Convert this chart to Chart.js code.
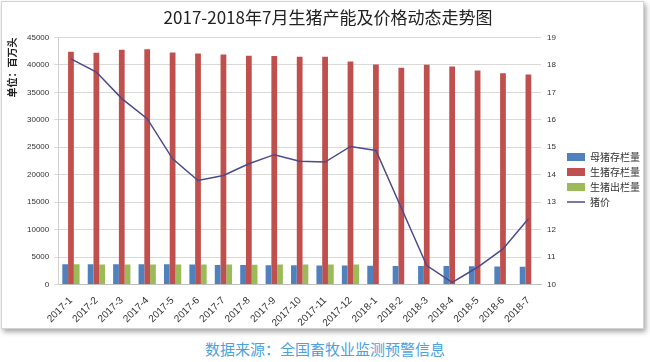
<!DOCTYPE html>
<html><head><meta charset="utf-8">
<script src="https://cdn.jsdelivr.net/npm/chart.js@4.4.0/dist/chart.umd.min.js"></script>
<style>
html,body{margin:0;padding:0;background:#fff;width:650px;height:362px;overflow:hidden;}
#panel{position:absolute;left:1px;top:1px;width:641px;height:326px;border:1px solid #d4d4d4;box-shadow:2px 3px 5px rgba(0,0,0,0.35);background:#fff;}
#wrap{position:absolute;left:0;top:0;width:650px;height:334px;}
#src{position:absolute;left:0;width:650px;top:339px;text-align:center;font:15px "Noto Sans CJK SC";color:#4aa3df;line-height:20px;}
</style></head><body>
<div id="panel"></div>
<div id="wrap"><canvas id="c"></canvas></div>
<div id="src">数据来源：全国畜牧业监测预警信息</div>
<script>
const categories = ['2017-1','2017-2','2017-3','2017-4','2017-5','2017-6','2017-7','2017-8','2017-9','2017-10','2017-11','2017-12','2018-1','2018-2','2018-3','2018-4','2018-5','2018-6','2018-7'];
const sowStock   = [3700,3690,3690,3680,3680,3670,3560,3540,3530,3510,3490,3470,3440,3400,3380,3360,3330,3290,3250];
const hogStock   = [42400,42200,42750,42860,42250,42070,41890,41650,41620,41470,41470,40610,40060,39460,40000,39700,38960,38470,38230];
const hogOutput  = [3680,3670,3670,3660,3660,3650,3640,3630,3640,3650,3650,3660,null,null,null,null,null,null,null];
const hogPrice   = [18.22,17.74,16.77,16.04,14.58,13.79,13.97,14.40,14.73,14.49,14.46,15.03,14.88,12.79,10.69,10.08,10.63,11.30,12.40];
const leftTicks  = {min:0, max:45000, step:5000};
const rightTicks = {min:10, max:19, step:1};

const cjk = '"Noto Sans CJK SC", sans-serif';
const num = '"Liberation Sans", sans-serif';

new Chart(document.getElementById('c'), {
  data: {
    labels: categories,
    datasets: [
      {type:'bar', label:'母猪存栏量', data: sowStock, backgroundColor:'#4F81BD', yAxisID:'y', pointStyle:'rect', categoryPercentage:0.68, barPercentage:1.0},
      {type:'bar', label:'生猪存栏量', data: hogStock, backgroundColor:'#C0504D', yAxisID:'y', pointStyle:'rect', categoryPercentage:0.68, barPercentage:1.0},
      {type:'bar', label:'生猪出栏量', data: hogOutput, backgroundColor:'#9BBB59', yAxisID:'y', pointStyle:'rect', categoryPercentage:0.68, barPercentage:1.0},
      {type:'line', label:'猪价', data: hogPrice, borderColor:'#4B4A8C', backgroundColor:'#4B4A8C', borderWidth:1.5, pointRadius:0, tension:0, yAxisID:'y1', pointStyle:'line', order:-1}
    ]
  },
  options: {
    responsive:true, maintainAspectRatio:false, animation:false,
    layout:{padding:{left:6, right:0, top:0, bottom:3}},
    plugins:{
      title:{display:true, text:'2017-2018年7月生猪产能及价格动态走势图', color:'#222', font:{family:cjk, size:17, weight:'normal'}, padding:{top:7, bottom:10}},
      legend:{position:'right', align:'center',
        title:{display:true, text:' ', font:{size:10}, padding:{top:16, bottom:0}},
        labels:{usePointStyle:true, pointStyleWidth:18, boxHeight:8, color:'#333', font:{family:cjk, size:10}, padding:5,
          sort:(a,b)=>a.datasetIndex-b.datasetIndex}},
      tooltip:{enabled:false}
    },
    scales:{
      x:{grid:{display:false}, border:{color:'#bfbfbf'},
         ticks:{autoSkip:false, minRotation:45, maxRotation:45, padding:2, color:'#333', font:{family:num, size:10}}},
      y:{position:'left', min:leftTicks.min, max:leftTicks.max,
         ticks:{stepSize:leftTicks.step, color:'#333', font:{family:num, size:8}, padding:5, callback:v=>String(v)},
         grid:{color:'#d9d9d9', tickLength:4, tickColor:'#d9d9d9'}, border:{color:'#d0d0d0'},
         title:{display:true, text:'单位：百万头', align:'end', color:'#222', font:{family:cjk, size:10, weight:'bold'}, padding:{top:0,bottom:4}}},
      y1:{position:'right', min:rightTicks.min, max:rightTicks.max,
         ticks:{stepSize:rightTicks.step, color:'#333', font:{family:num, size:8}, padding:6},
         grid:{display:false, drawTicks:false}, border:{display:false}}
    }
  }
});
</script>
</body></html>
